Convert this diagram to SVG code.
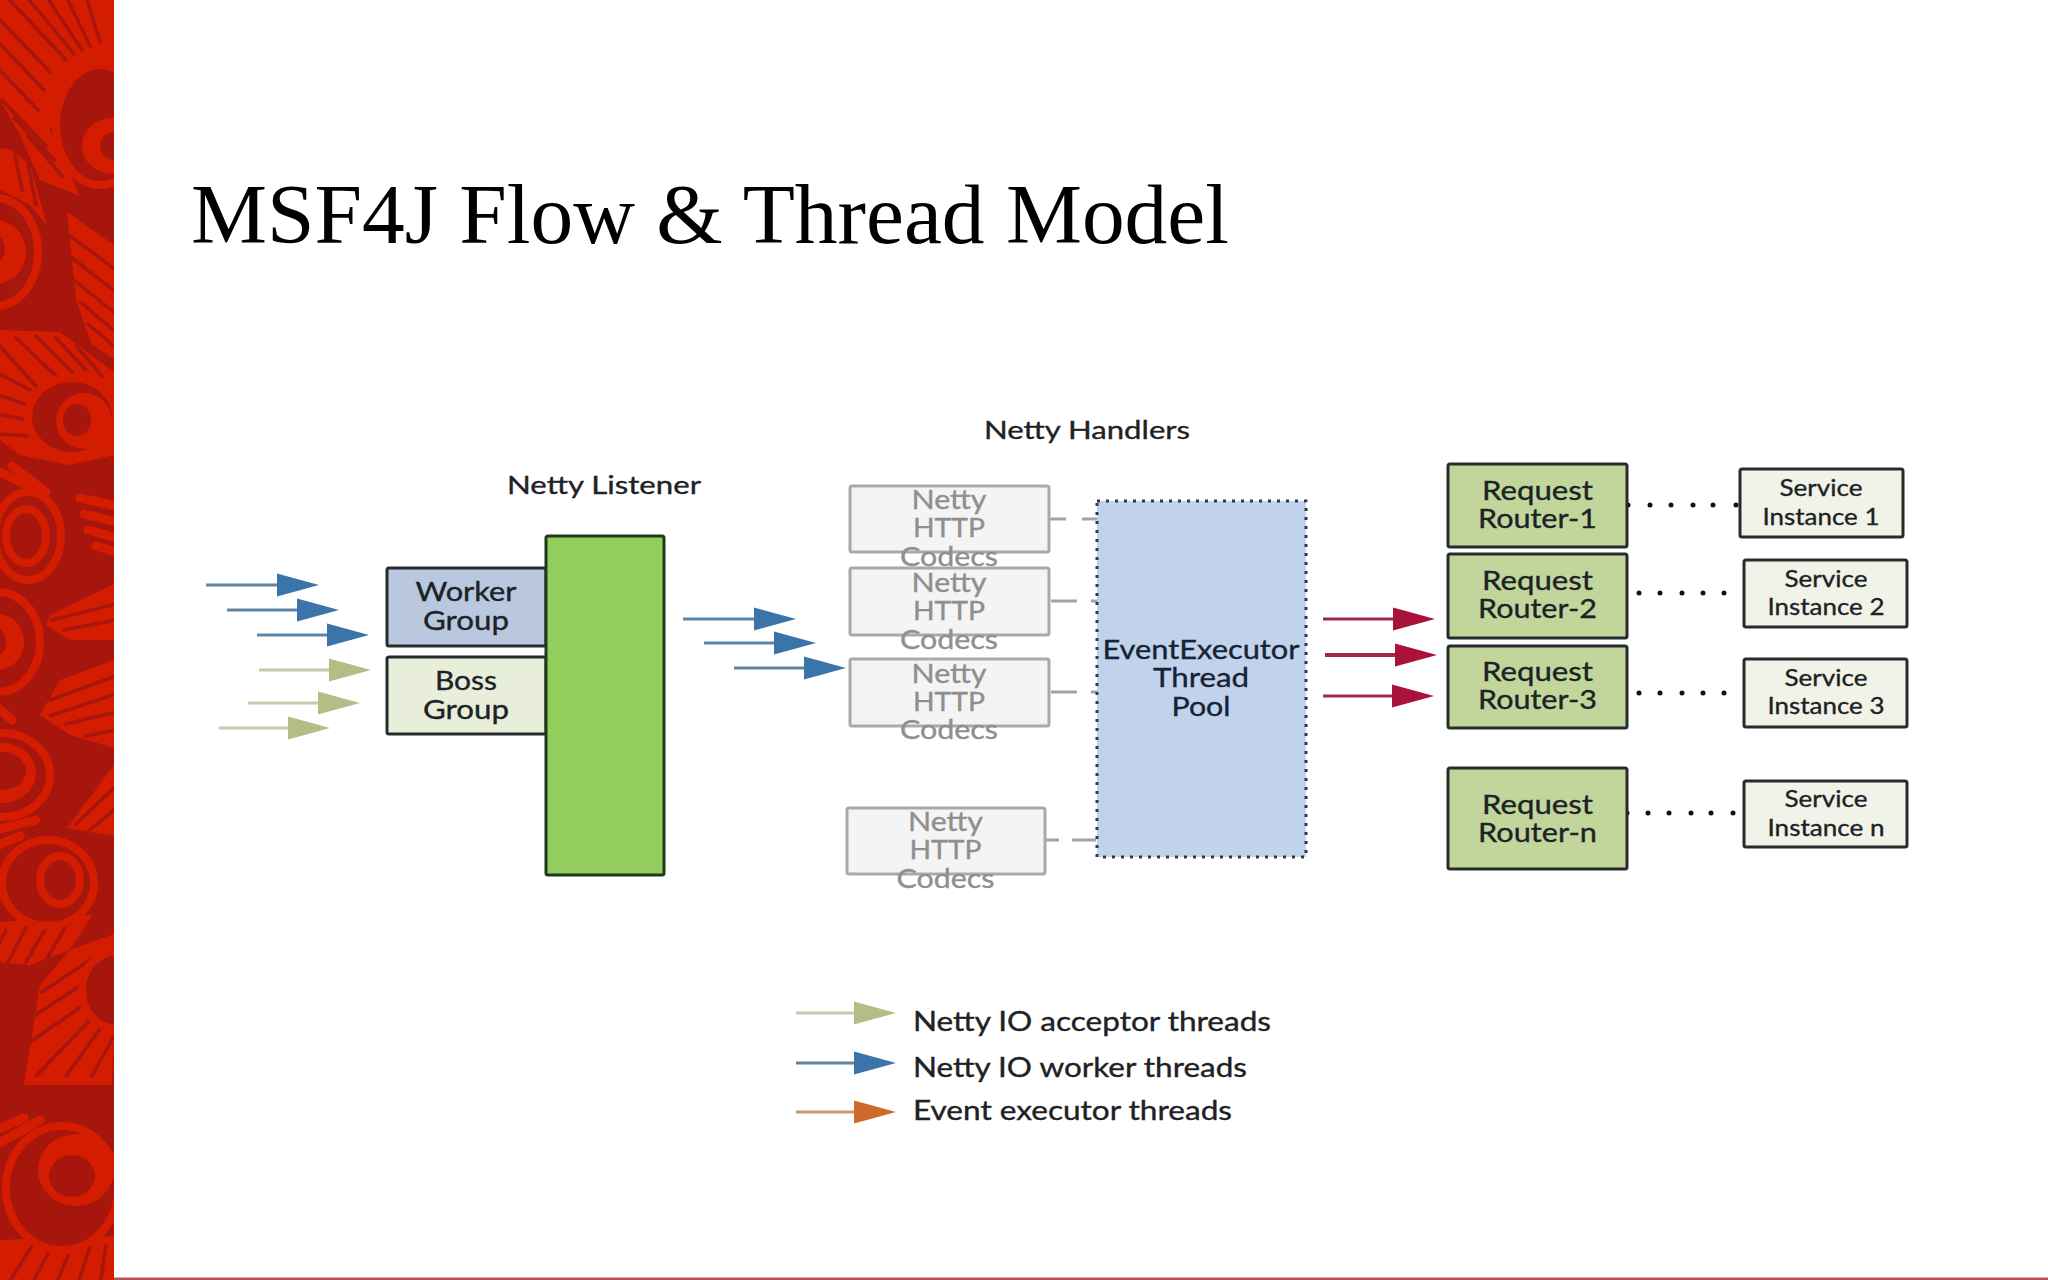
<svg xmlns="http://www.w3.org/2000/svg" width="2048" height="1280" viewBox="0 0 2048 1280">
<style>
text{font-family:"Lato","Carlito","Liberation Sans",sans-serif;text-anchor:middle;fill:#1d2226;stroke:#1d2226;stroke-width:.35}
.t{font-family:"Liberation Serif","Times New Roman",serif;text-anchor:start;fill:#000;stroke:none;font-size:85px}
.h{font-size:25px}.n{font-size:26.500px}.c{font-size:26.500px;fill:#8d8f90;stroke:#8d8f90}.s{font-size:23.500px}.l{font-size:26px;text-anchor:start}
.box{stroke:#262b2c;stroke-width:3}
.wk{fill:#b9c8df}.bs{fill:#e9eeda}.rt{fill:#c2d69b}.sv{fill:#f1f3e8}
.cd{fill:#f4f4f4;stroke:#a9a9a9;stroke-width:3}
.dot{fill:#111}
.f{stroke:#d41f00;stroke-width:9;stroke-linecap:round;fill:none}
.lt{fill:#d41f00}
.st{stroke:#a6140f;stroke-width:3.500;stroke-linecap:round;fill:none}
.r{stroke:#d41f00;stroke-width:8;fill:#a6140f}
.al{fill:#d41f00}.ad{fill:#a6140f}
.dash{stroke:#a3a3a3;stroke-width:3;fill:none}
.wl{stroke:#5f85a5;stroke-width:3}.wh{fill:#3a74a8}
.ol{stroke:#c6ccaa;stroke-width:3}.oh{fill:#b3be87}
.rl{stroke:#9e2a45;stroke-width:3}.rh{fill:#a9123a}
.el{stroke:#c49a72;stroke-width:3}.eh{fill:#ce6b2a}
</style>
<defs>
<clipPath id="bandclip"><rect x="0" y="0" width="114" height="1280"/></clipPath>
<filter id="soft" x="-5%" y="-5%" width="110%" height="110%"><feGaussianBlur stdDeviation="0.700"/></filter>
<polygon id="head" points="0,-11.500 42,0 0,11.500"/>
</defs>
<rect width="2048" height="1280" fill="#fff"/>
<g id="band" clip-path="url(#bandclip)">
<g filter="url(#soft)">
<rect width="114" height="1280" fill="#a6140f"/>
<polygon class="lt" points="0,0 114,0 114,62 70,75 50,130 80,196 40,180 20,135 0,100"/>
<path class="st" d="M6 -4L66 60M26 -4L74 54M46 -4L82 50M66 -4L90 46M86 -4L100 42M-4 16L50 72M-4 40L44 90M-4 66L38 110M2 100L46 146M14 118L54 160M28 136L62 176"/>
<ellipse class="r" cx="100" cy="125" rx="44" ry="60"/>
<ellipse class="al" cx="112" cy="146" rx="30" ry="28"/>
<ellipse class="ad" cx="114" cy="146" rx="14" ry="14"/>
<polygon class="lt" points="0,148 12,150 30,165 47,225 30,205 0,190"/>
<path class="st" d="M14 150L22 190M28 165L36 205"/>
<ellipse class="r" cx="-4" cy="252" rx="42" ry="54"/>
<ellipse class="al" cx="-4" cy="252" rx="30" ry="32"/>
<ellipse class="ad" cx="-2" cy="249" rx="7" ry="12"/>
<polygon class="lt" points="67,212 114,245 114,359 92,345 76,300"/>
<path class="st" d="M70 236L116 270M72 258L116 292M74 280L116 314M80 302L116 332M88 324L116 348"/>
<polygon class="lt" points="0,330 60,332 114,372 114,455 70,465 20,455 0,440"/>
<path class="st" d="M-4 342L36 386M16 338L56 376M36 336L72 372M56 338L86 370M76 346L102 376M-4 372L30 390M-4 394L28 405M-4 414L28 420M-4 434L34 436"/>
<ellipse class="r" cx="72" cy="417" rx="44" ry="39"/>
<ellipse class="al" cx="84" cy="421" rx="28" ry="28"/>
<ellipse class="ad" cx="77" cy="420" rx="14" ry="16"/>
<path class="f" d="M-4 470L36 490M12 466L46 492"/>
<ellipse class="r" cx="28" cy="536" rx="33" ry="44"/>
<ellipse class="r" cx="26" cy="536" rx="20" ry="27"/>
<path class="f" d="M80 498L116 506M84 514L116 522M88 530L116 538M96 546L116 552"/>
<polygon class="lt" points="114,584 50,615 46,625 70,640 114,640"/>
<path class="st" d="M52 620L116 604M64 630L116 620"/>
<ellipse class="r" cx="-2" cy="642" rx="42" ry="50"/>
<ellipse class="al" cx="-2" cy="642" rx="26" ry="28"/>
<ellipse class="ad" cx="-4" cy="642" rx="10" ry="14"/>
<polygon class="lt" points="114,660 60,680 40,715 70,735 114,748"/>
<path class="st" d="M50 700L116 676M50 716L116 694M66 724L116 712M86 736L116 730"/>
<polygon class="lt" points="67,828 114,765 114,836 90,832"/>
<path class="st" d="M76 824L116 786M90 830L116 808"/>
<path class="f" d="M-4 706L12 720M-4 830L36 820M-4 846L20 836"/>
<ellipse class="r" cx="2" cy="775" rx="48" ry="42"/>
<ellipse class="al" cx="2" cy="773" rx="34" ry="30"/>
<ellipse class="ad" cx="2" cy="771" rx="24" ry="19"/>
<polygon class="lt" points="0,922 92,915 70,950 30,965 0,962"/>
<path class="st" d="M6 930L-8 958M26 928L8 962M46 928L26 962M66 926L46 960"/>
<ellipse class="r" cx="48" cy="883" rx="46" ry="43"/>
<ellipse class="r" cx="60" cy="880" rx="20" ry="24"/>
<polygon class="lt" points="114,934 70,950 40,985 24,1085 112,1085 114,1030"/>
<path class="st" d="M42 992L90 960M34 1016L86 982M30 1042L88 1002M36 1076L90 1020M66 1076L102 1026M92 1076L114 1036"/>
<ellipse class="r" cx="115" cy="990" rx="33" ry="38"/>
<path class="f" d="M-4 1145L40 1120M-4 1130L24 1118"/>
<polygon class="lt" points="0,1240 114,1236 114,1280 0,1280"/>
<path class="st" d="M8 1284L32 1246M32 1284L52 1246M56 1284L72 1246M78 1284L90 1246M100 1284L106 1246"/>
<ellipse class="r" cx="62" cy="1188" rx="56" ry="62"/>
<ellipse class="al" cx="76" cy="1170" rx="38" ry="36"/>
<ellipse class="ad" cx="72" cy="1176" rx="23" ry="21"/>
</g>
</g>
<rect id="footer-rule" x="114" y="1277.500" width="1934" height="2.500" fill="#b9504c"/>
<text class="t" x="191" y="243" textLength="1038" lengthAdjust="spacingAndGlyphs">MSF4J Flow &amp; Thread Model</text>
<g id="connectors">
<g id="dashes">
<path class="dash" d="M1049 519H1066M1082 519H1098M1051 601H1077M1091 601H1098M1051 692H1077M1091 692H1098M1046 840H1059M1072 840H1096"/>
</g>
<g id="in-arrows">
<line class="wl" x1="206" y1="585" x2="280" y2="585"/><use href="#head" class="wh" x="277" y="585"/>
<line class="wl" x1="227" y1="610" x2="300" y2="610"/><use href="#head" class="wh" x="297" y="610"/>
<line class="wl" x1="257" y1="635" x2="330" y2="635"/><use href="#head" class="wh" x="327" y="635"/>
<line class="ol" x1="259" y1="670" x2="332" y2="670"/><use href="#head" class="oh" x="329" y="670"/>
<line class="ol" x1="248" y1="703" x2="321" y2="703"/><use href="#head" class="oh" x="318" y="703"/>
<line class="ol" x1="219" y1="728" x2="291" y2="728"/><use href="#head" class="oh" x="288" y="728"/>
<line class="wl" x1="683" y1="619" x2="757" y2="619"/><use href="#head" class="wh" x="754" y="619"/>
<line class="wl" x1="704" y1="643" x2="777" y2="643"/><use href="#head" class="wh" x="774" y="643"/>
<line class="wl" x1="734" y1="668" x2="807" y2="668"/><use href="#head" class="wh" x="804" y="668"/>
</g>
<g id="out-arrows">
<line class="rl" x1="1323" y1="619" x2="1396" y2="619"/><use href="#head" class="rh" x="1393" y="619"/>
<line class="rl" x1="1325" y1="655" x2="1398" y2="655" style="stroke-width:4"/><use href="#head" class="rh" x="1395" y="655"/>
<line class="rl" x1="1323" y1="696" x2="1395" y2="696"/><use href="#head" class="rh" x="1392" y="696"/>
</g>
<g id="dots">
<circle class="dot" cx="1628" cy="505" r="2.500"/><circle class="dot" cx="1650" cy="505" r="2.500"/><circle class="dot" cx="1671" cy="505" r="2.500"/><circle class="dot" cx="1693" cy="505" r="2.500"/><circle class="dot" cx="1713" cy="505" r="2.500"/><circle class="dot" cx="1736" cy="505" r="2.500"/>
<circle class="dot" cx="1639" cy="593" r="2.500"/><circle class="dot" cx="1660" cy="593" r="2.500"/><circle class="dot" cx="1682" cy="593" r="2.500"/><circle class="dot" cx="1703" cy="593" r="2.500"/><circle class="dot" cx="1724" cy="593" r="2.500"/><circle class="dot" cx="1746" cy="593" r="2.500"/>
<circle class="dot" cx="1639" cy="693" r="2.500"/><circle class="dot" cx="1660" cy="693" r="2.500"/><circle class="dot" cx="1682" cy="693" r="2.500"/><circle class="dot" cx="1703" cy="693" r="2.500"/><circle class="dot" cx="1724" cy="693" r="2.500"/><circle class="dot" cx="1746" cy="693" r="2.500"/>
<circle class="dot" cx="1627" cy="813" r="2.500"/><circle class="dot" cx="1648" cy="813" r="2.500"/><circle class="dot" cx="1669" cy="813" r="2.500"/><circle class="dot" cx="1691" cy="813" r="2.500"/><circle class="dot" cx="1711" cy="813" r="2.500"/><circle class="dot" cx="1733" cy="813" r="2.500"/>
</g>
</g>
<g id="worker-group"><rect class="box wk" x="387" y="568" width="159" height="78" rx="2"/>
<text class="n" x="466" y="600.500" textLength="101" lengthAdjust="spacingAndGlyphs">Worker</text><text class="n" x="466" y="629.500" textLength="86" lengthAdjust="spacingAndGlyphs">Group</text></g>
<g id="boss-group"><rect class="box bs" x="387" y="657" width="159" height="77" rx="2"/>
<text class="n" x="466" y="689.500" textLength="62" lengthAdjust="spacingAndGlyphs">Boss</text><text class="n" x="466" y="718.500" textLength="86" lengthAdjust="spacingAndGlyphs">Group</text></g>
<g id="netty-listener"><rect x="546" y="536" width="118" height="339" rx="2" fill="#93cd5e" stroke="#1f3a1a" stroke-width="3"/>
<text class="h" x="604" y="494" textLength="194" lengthAdjust="spacingAndGlyphs">Netty Listener</text></g>
<text class="h" x="1087" y="439" textLength="206" lengthAdjust="spacingAndGlyphs">Netty Handlers</text>
<g id="codec-1"><rect class="cd" x="850" y="486" width="199" height="66" rx="2"/>
<text class="c" x="949" y="508.500" textLength="75" lengthAdjust="spacingAndGlyphs">Netty</text><text class="c" x="949" y="537" textLength="72" lengthAdjust="spacingAndGlyphs">HTTP</text><text class="c" x="949" y="565.500" textLength="98" lengthAdjust="spacingAndGlyphs">Codecs</text></g>
<g id="codec-2"><rect class="cd" x="850" y="568" width="199" height="67" rx="2"/>
<text class="c" x="949" y="591.500" textLength="75" lengthAdjust="spacingAndGlyphs">Netty</text><text class="c" x="949" y="619.500" textLength="72" lengthAdjust="spacingAndGlyphs">HTTP</text><text class="c" x="949" y="648.500" textLength="98" lengthAdjust="spacingAndGlyphs">Codecs</text></g>
<g id="codec-3"><rect class="cd" x="850" y="659" width="199" height="67" rx="2"/>
<text class="c" x="949" y="682.500" textLength="75" lengthAdjust="spacingAndGlyphs">Netty</text><text class="c" x="949" y="710.500" textLength="72" lengthAdjust="spacingAndGlyphs">HTTP</text><text class="c" x="949" y="738.500" textLength="98" lengthAdjust="spacingAndGlyphs">Codecs</text></g>
<g id="codec-4"><rect class="cd" x="847" y="808" width="198" height="66" rx="2"/>
<text class="c" x="945.500" y="830.500" textLength="75" lengthAdjust="spacingAndGlyphs">Netty</text><text class="c" x="945.500" y="858.500" textLength="72" lengthAdjust="spacingAndGlyphs">HTTP</text><text class="c" x="945.500" y="887.500" textLength="98" lengthAdjust="spacingAndGlyphs">Codecs</text></g>
<g id="event-executor"><rect x="1097" y="501" width="209" height="356" fill="#c1d3ec" stroke="#2f3b4a" stroke-width="3" stroke-dasharray="3 6"/>
<text class="n" x="1201" y="658.500" textLength="197" lengthAdjust="spacingAndGlyphs" style="fill:#14233a">EventExecutor</text><text class="n" x="1201" y="687" textLength="96" lengthAdjust="spacingAndGlyphs" style="fill:#14233a">Thread</text><text class="n" x="1201" y="715.500" textLength="59" lengthAdjust="spacingAndGlyphs" style="fill:#14233a">Pool</text></g>
<g id="router-1"><rect class="box rt" x="1448" y="464" width="179" height="83" rx="2"/>
<text class="n" x="1537.500" y="499.500" textLength="111" lengthAdjust="spacingAndGlyphs">Request</text><text class="n" x="1537.500" y="528" textLength="119" lengthAdjust="spacingAndGlyphs">Router-1</text></g>
<g id="router-2"><rect class="box rt" x="1448" y="554" width="179" height="84" rx="2"/>
<text class="n" x="1537.500" y="589.500" textLength="111" lengthAdjust="spacingAndGlyphs">Request</text><text class="n" x="1537.500" y="618" textLength="119" lengthAdjust="spacingAndGlyphs">Router-2</text></g>
<g id="router-3"><rect class="box rt" x="1448" y="646" width="179" height="82" rx="2"/>
<text class="n" x="1537.500" y="680.500" textLength="111" lengthAdjust="spacingAndGlyphs">Request</text><text class="n" x="1537.500" y="709" textLength="119" lengthAdjust="spacingAndGlyphs">Router-3</text></g>
<g id="router-n"><rect class="box rt" x="1448" y="768" width="179" height="101" rx="2"/>
<text class="n" x="1537.500" y="813.500" textLength="111" lengthAdjust="spacingAndGlyphs">Request</text><text class="n" x="1537.500" y="841.500" textLength="119" lengthAdjust="spacingAndGlyphs">Router-n</text></g>
<g id="service-1"><rect class="box sv" x="1740" y="469" width="163" height="68" rx="2"/>
<text class="s" x="1821" y="495.500" textLength="83" lengthAdjust="spacingAndGlyphs">Service</text><text class="s" x="1821" y="525" textLength="117" lengthAdjust="spacingAndGlyphs">Instance 1</text></g>
<g id="service-2"><rect class="box sv" x="1744" y="560" width="163" height="67" rx="2"/>
<text class="s" x="1826" y="586.500" textLength="83" lengthAdjust="spacingAndGlyphs">Service</text><text class="s" x="1826" y="615" textLength="117" lengthAdjust="spacingAndGlyphs">Instance 2</text></g>
<g id="service-3"><rect class="box sv" x="1744" y="659" width="163" height="68" rx="2"/>
<text class="s" x="1826" y="685.500" textLength="83" lengthAdjust="spacingAndGlyphs">Service</text><text class="s" x="1826" y="714" textLength="117" lengthAdjust="spacingAndGlyphs">Instance 3</text></g>
<g id="service-n"><rect class="box sv" x="1744" y="781" width="163" height="66" rx="2"/>
<text class="s" x="1826" y="806.500" textLength="83" lengthAdjust="spacingAndGlyphs">Service</text><text class="s" x="1826" y="835.500" textLength="117" lengthAdjust="spacingAndGlyphs">Instance n</text></g>
<g id="legend">
<line class="ol" x1="796" y1="1013" x2="857" y2="1013"/><use href="#head" class="oh" x="854" y="1013"/>
<line class="wl" x1="796" y1="1063" x2="857" y2="1063"/><use href="#head" class="wh" x="854" y="1063"/>
<line class="el" x1="796" y1="1112" x2="857" y2="1112"/><use href="#head" class="eh" x="854" y="1112"/>
<text class="l" x="913" y="1031" textLength="358" lengthAdjust="spacingAndGlyphs">Netty IO acceptor threads</text>
<text class="l" x="913" y="1077" textLength="334" lengthAdjust="spacingAndGlyphs">Netty IO worker threads</text>
<text class="l" x="913" y="1120" textLength="319" lengthAdjust="spacingAndGlyphs">Event executor threads</text>
</g>
</svg>
